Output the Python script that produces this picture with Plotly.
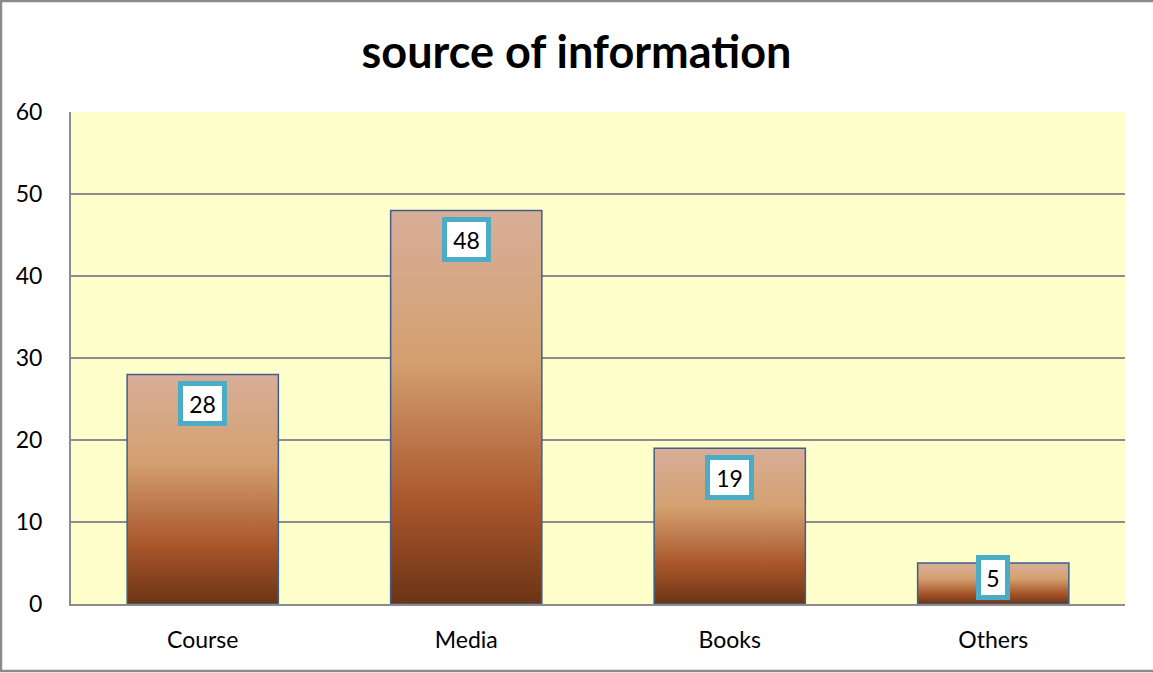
import plotly.graph_objects as go

# Chart data
categories = ["Course", "Media", "Books", "Others"]
counts = [28, 48, 19, 5]
y_ticks = [0, 10, 20, 30, 40, 50, 60]

font_family = "Lato, Carlito, 'Open Sans', sans-serif"
bar_width = 0.574
gradient = [[0.0, "#6b3415"], [0.25, "#a8552a"], [0.62, "#d4a070"], [1.0, "#d8ae98"]]

fig = go.Figure()

# Bars as filled polygons so each one gets its own vertical gradient
for i, (cat, val) in enumerate(zip(categories, counts)):
    x0, x1 = i - bar_width / 2, i + bar_width / 2
    fig.add_trace(go.Scatter(
        x=[x0, x0, x1, x1, x0],
        y=[0, val, val, 0, 0],
        mode="lines",
        fill="toself",
        fillgradient=dict(type="vertical", colorscale=gradient),
        line=dict(color="#3f5f8a", width=1.5),
        name=cat,
        hoverinfo="skip",
        showlegend=False,
    ))

# Value labels in white boxes with teal border
for i, val in enumerate(counts):
    txt = str(val)
    if val < 8:
        y, anchor, shift = 0, "bottom", 4
    else:
        y, anchor, shift = val, "top", -7
    fig.add_annotation(
        x=i, y=y, text=txt, showarrow=False,
        yanchor=anchor, yshift=shift,
        width=1 + 15 * len(txt), height=27,
        font=dict(family=font_family, size=23, color="black"),
        bgcolor="white", bordercolor="#4bacc6", borderwidth=5, borderpad=4,
    )

# Outer chart border
fig.add_shape(type="rect", xref="paper", yref="paper",
              x0=-70 / 1054, x1=1.1, y0=-67 / 492, y1=1 + 111 / 492,
              line=dict(color="#8a8a8a", width=2.5), layer="above")

fig.update_layout(
    width=1153,
    height=673,
    title=dict(text="<b>source of information</b>", x=0.5, xanchor="center",
               y=1 - 52 / 673, yanchor="middle",
               font=dict(family=font_family, size=45, color="black")),
    plot_bgcolor="#ffffcc",
    paper_bgcolor="white",
    margin=dict(l=71, r=28, t=112, b=69),
    xaxis=dict(
        range=[-0.5, 3.5],
        tickvals=list(range(len(categories))),
        ticktext=categories,
        showgrid=False, zeroline=False,
        showline=True, linecolor="#8c8c8c", linewidth=2,
        ticks="", ticklabelstandoff=14,
        tickfont=dict(family=font_family, size=23, color="black"),
        fixedrange=True,
    ),
    yaxis=dict(
        range=[0, 60],
        tickvals=y_ticks,
        showgrid=True, gridcolor="#8c8c8c", gridwidth=1.5,
        zeroline=False,
        showline=True, linecolor="#8c8c8c", linewidth=2,
        ticks="", ticklabelstandoff=22,
        tickfont=dict(family=font_family, size=23, color="black"),
        fixedrange=True,
    ),
)

fig.write_html("out.html", config={"displayModeBar": False},
               post_script="document.body.style.margin='0';")
